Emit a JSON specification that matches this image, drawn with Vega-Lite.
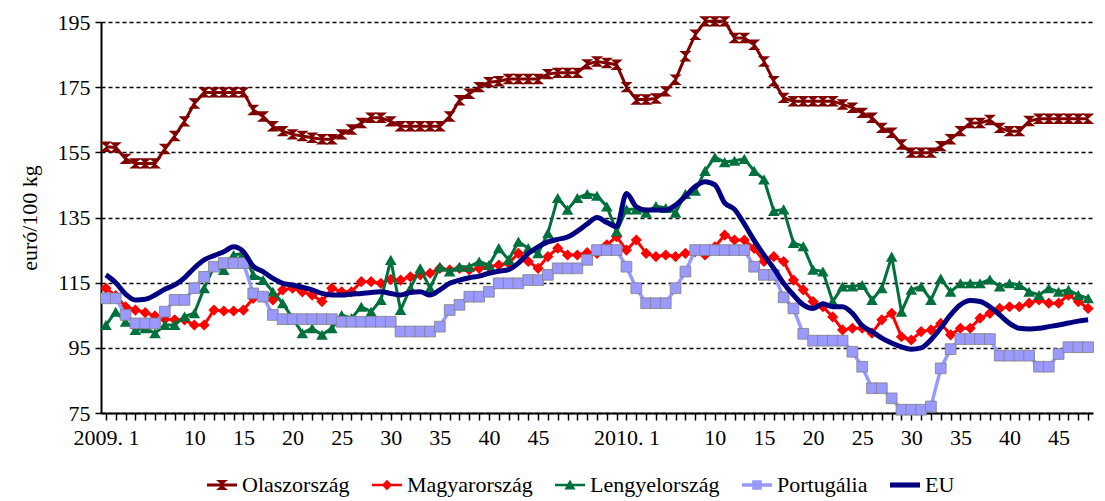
{
  "$schema": "https://vega.github.io/schema/vega-lite/v6.json",
  "width": 992,
  "height": 391,
  "autosize": {"type": "none"},
  "padding": {"left": 101, "top": 22, "right": 12, "bottom": 88},
  "background": "white",
  "config": {
    "view": {"stroke": null},
    "font": "Liberation Serif",
    "legend": {"labelFont": "Liberation Serif", "labelFontSize": 22, "labelColor": "black"}
  },
  "data": {"values": [
    {"i":1,"Olaszország":156.7,"Magyarország":113.3,"Lengyelország":102,"Portugália":110.2,"EU":117.4},
    {"i":2,"Olaszország":156.5,"Magyarország":111,"Lengyelország":106.1,"Portugália":110.2,"EU":115},
    {"i":3,"Olaszország":153,"Magyarország":107.6,"Lengyelország":103,"Portugália":105.1,"EU":111.5},
    {"i":4,"Olaszország":151.6,"Magyarország":106.6,"Lengyelország":100.5,"Portugália":102.5,"EU":109.7},
    {"i":5,"Olaszország":151.6,"Magyarország":105.8,"Lengyelország":101,"Portugália":102.5,"EU":109.9},
    {"i":6,"Olaszország":151.6,"Magyarország":104.8,"Lengyelország":99.5,"Portugália":102.5,"EU":111.2},
    {"i":7,"Olaszország":156,"Magyarország":103.8,"Lengyelország":102,"Portugália":106.1,"EU":113},
    {"i":8,"Olaszország":160,"Magyarország":103.6,"Lengyelország":102,"Portugália":109.7,"EU":114.3},
    {"i":9,"Olaszország":164.5,"Magyarország":103.6,"Lengyelország":104.6,"Portugália":109.7,"EU":116.5},
    {"i":10,"Olaszország":170,"Magyarország":102,"Lengyelország":105.6,"Portugália":113.3,"EU":119.5},
    {"i":11,"Olaszország":173.4,"Magyarország":102,"Lengyelország":113.3,"Portugália":116.8,"EU":122},
    {"i":12,"Olaszország":173.4,"Magyarország":106.6,"Lengyelország":119.9,"Portugália":119.9,"EU":123.3},
    {"i":13,"Olaszország":173.4,"Magyarország":106.3,"Lengyelország":118.9,"Portugália":121,"EU":124.5},
    {"i":14,"Olaszország":173.4,"Magyarország":106.3,"Lengyelország":123.5,"Portugália":121,"EU":126},
    {"i":15,"Olaszország":173.4,"Magyarország":106.6,"Lengyelország":124,"Portugália":121,"EU":124.5},
    {"i":16,"Olaszország":168,"Magyarország":110.2,"Lengyelország":117.4,"Portugália":111.7,"EU":120},
    {"i":17,"Olaszország":166,"Magyarország":110.7,"Lengyelország":115.8,"Portugália":110.7,"EU":118.4},
    {"i":18,"Olaszország":163,"Magyarország":109.7,"Lengyelország":112.2,"Portugália":105.1,"EU":116.3},
    {"i":19,"Olaszország":161.5,"Magyarország":112.8,"Lengyelország":108.7,"Portugália":103.8,"EU":114.8},
    {"i":20,"Olaszország":160.5,"Magyarország":113.3,"Lengyelország":104.1,"Portugália":103.8,"EU":114.3},
    {"i":21,"Olaszország":160,"Magyarország":112.2,"Lengyelország":99.5,"Portugália":103.8,"EU":113.6},
    {"i":22,"Olaszország":159.5,"Magyarország":111.2,"Lengyelország":101,"Portugália":103.8,"EU":112.8},
    {"i":23,"Olaszország":159,"Magyarország":109.2,"Lengyelország":99,"Portugália":103.8,"EU":111.7},
    {"i":24,"Olaszország":159,"Magyarország":113.3,"Lengyelország":101,"Portugália":103.8,"EU":111.2},
    {"i":25,"Olaszország":160.5,"Magyarország":112.2,"Lengyelország":105.1,"Portugália":103,"EU":111.2},
    {"i":26,"Olaszország":162,"Magyarország":112.2,"Lengyelország":104.1,"Portugália":103,"EU":111.5},
    {"i":27,"Olaszország":164,"Magyarország":115.3,"Lengyelország":107.6,"Portugália":103,"EU":111.7},
    {"i":28,"Olaszország":165.6,"Magyarország":115.3,"Lengyelország":106.1,"Portugália":103,"EU":112},
    {"i":29,"Olaszország":165.6,"Magyarország":114.8,"Lengyelország":109.7,"Portugália":103,"EU":112.2},
    {"i":30,"Olaszország":164.5,"Magyarország":116,"Lengyelország":122,"Portugália":103,"EU":111.7},
    {"i":31,"Olaszország":163,"Magyarország":115.8,"Lengyelország":106.6,"Portugália":100,"EU":111.2},
    {"i":32,"Olaszország":163,"Magyarország":116.8,"Lengyelország":113.3,"Portugália":100,"EU":112},
    {"i":33,"Olaszország":163,"Magyarország":117.4,"Lengyelország":119.4,"Portugália":100,"EU":112.2},
    {"i":34,"Olaszország":163,"Magyarország":117.9,"Lengyelország":113.3,"Portugália":100,"EU":111.2},
    {"i":35,"Olaszország":163,"Magyarország":119.4,"Lengyelország":119.9,"Portugália":101.5,"EU":112.8},
    {"i":36,"Olaszország":166,"Magyarország":118.9,"Lengyelország":118.4,"Portugália":106.6,"EU":114.8},
    {"i":37,"Olaszország":171,"Magyarország":119.4,"Lengyelország":119.9,"Portugália":108.2,"EU":115.8},
    {"i":38,"Olaszország":173,"Magyarország":118.9,"Lengyelország":119.9,"Portugália":110.7,"EU":116.5},
    {"i":39,"Olaszország":175,"Magyarország":119.4,"Lengyelország":121.5,"Portugália":110.7,"EU":117},
    {"i":40,"Olaszország":176.5,"Magyarország":119.9,"Lengyelország":120.4,"Portugália":112.2,"EU":117.9},
    {"i":41,"Olaszország":176.8,"Magyarország":120.4,"Lengyelország":125.6,"Portugália":114.8,"EU":118.5},
    {"i":42,"Olaszország":177.5,"Magyarország":121,"Lengyelország":122,"Portugália":114.8,"EU":119},
    {"i":43,"Olaszország":177.5,"Magyarország":124,"Lengyelország":127.6,"Portugália":114.8,"EU":121},
    {"i":44,"Olaszország":177.5,"Magyarország":121.5,"Lengyelország":125.6,"Portugália":115.8,"EU":124},
    {"i":45,"Olaszország":177.5,"Magyarország":119.4,"Lengyelország":124,"Portugália":115.8,"EU":126},
    {"i":46,"Olaszország":179,"Magyarország":123,"Lengyelország":130.2,"Portugália":117.4,"EU":127.5},
    {"i":47,"Olaszország":179.4,"Magyarország":125.6,"Lengyelország":141,"Portugália":119.4,"EU":128.3},
    {"i":48,"Olaszország":179.4,"Magyarország":123.5,"Lengyelország":137.4,"Portugália":119.4,"EU":129},
    {"i":49,"Olaszország":179.4,"Magyarország":123.5,"Lengyelország":141,"Portugália":119.4,"EU":130.8},
    {"i":50,"Olaszország":182,"Magyarország":124.2,"Lengyelország":142.2,"Portugália":122,"EU":133},
    {"i":51,"Olaszország":182.9,"Magyarország":124,"Lengyelország":141.7,"Portugália":125,"EU":135},
    {"i":52,"Olaszország":182.4,"Magyarország":126.6,"Lengyelország":138.4,"Portugália":125,"EU":133.5},
    {"i":53,"Olaszország":181.9,"Magyarország":129.1,"Lengyelország":130.7,"Portugália":125,"EU":132.2},
    {"i":54,"Olaszország":175,"Magyarország":125,"Lengyelország":137.5,"Portugália":119.9,"EU":142.4},
    {"i":55,"Olaszország":171.2,"Magyarország":128.1,"Lengyelország":137.5,"Portugália":113.3,"EU":138.3},
    {"i":56,"Olaszország":171.2,"Magyarország":124,"Lengyelország":136.5,"Portugália":108.7,"EU":137.3},
    {"i":57,"Olaszország":171.5,"Magyarország":123,"Lengyelország":138.5,"Portugália":108.7,"EU":137.3},
    {"i":58,"Olaszország":173.7,"Magyarország":123.5,"Lengyelország":137.9,"Portugália":108.7,"EU":137.3},
    {"i":59,"Olaszország":177.3,"Magyarország":123,"Lengyelország":136.5,"Portugália":113.3,"EU":138.8},
    {"i":60,"Olaszország":184.5,"Magyarország":124,"Lengyelország":142.2,"Portugália":118.4,"EU":141.5},
    {"i":61,"Olaszország":191.1,"Magyarország":124.5,"Lengyelország":143.2,"Portugália":125,"EU":144.5},
    {"i":62,"Olaszország":195.2,"Magyarország":123.5,"Lengyelország":149.3,"Portugália":125,"EU":146},
    {"i":63,"Olaszország":195.2,"Magyarország":126,"Lengyelország":153.5,"Portugália":125,"EU":145},
    {"i":64,"Olaszország":195.2,"Magyarország":129.6,"Lengyelország":152,"Portugália":125,"EU":139.5},
    {"i":65,"Olaszország":190.1,"Magyarország":128.1,"Lengyelország":152.4,"Portugália":125,"EU":137.5},
    {"i":66,"Olaszország":190.1,"Magyarország":128.1,"Lengyelország":153,"Portugália":125,"EU":133},
    {"i":67,"Olaszország":188,"Magyarország":125.5,"Lengyelország":149.3,"Portugália":119.9,"EU":128},
    {"i":68,"Olaszország":182.9,"Magyarország":121.5,"Lengyelország":146.7,"Portugália":117.4,"EU":123.5},
    {"i":69,"Olaszország":176.8,"Magyarország":123,"Lengyelország":137,"Portugália":117.4,"EU":119.4},
    {"i":70,"Olaszország":171.7,"Magyarország":121.5,"Lengyelország":137.5,"Portugália":110.5,"EU":114.8},
    {"i":71,"Olaszország":170.7,"Magyarország":115.8,"Lengyelország":127.2,"Portugália":107.1,"EU":111.2},
    {"i":72,"Olaszország":170.7,"Magyarország":112.8,"Lengyelország":126.2,"Portugália":99.3,"EU":108.2},
    {"i":73,"Olaszország":170.7,"Magyarország":109.2,"Lengyelország":119,"Portugália":97.2,"EU":107.1},
    {"i":74,"Olaszország":170.7,"Magyarország":107.6,"Lengyelország":118.4,"Portugália":97.2,"EU":108.5},
    {"i":75,"Olaszország":170.7,"Magyarország":104.5,"Lengyelország":109.2,"Portugália":97.2,"EU":107.6},
    {"i":76,"Olaszország":169.7,"Magyarország":100.5,"Lengyelország":113.8,"Portugália":97.2,"EU":107.6},
    {"i":77,"Olaszország":168.7,"Magyarország":101,"Lengyelország":113.8,"Portugália":93.8,"EU":105.6},
    {"i":78,"Olaszország":167.1,"Magyarország":101,"Lengyelország":114.3,"Portugália":89.2,"EU":101.8},
    {"i":79,"Olaszország":165.6,"Magyarország":99.5,"Lengyelország":109.7,"Portugália":82.6,"EU":100},
    {"i":80,"Olaszország":162.5,"Magyarország":103.6,"Lengyelország":113.3,"Portugália":82.6,"EU":98},
    {"i":81,"Olaszország":161,"Magyarország":105.6,"Lengyelország":123,"Portugália":79.5,"EU":96.5},
    {"i":82,"Olaszország":157.4,"Magyarország":98.4,"Lengyelország":106.1,"Portugália":76,"EU":95.3},
    {"i":83,"Olaszország":154.9,"Magyarország":97.4,"Lengyelország":112.8,"Portugália":76,"EU":94.6},
    {"i":84,"Olaszország":154.9,"Magyarország":100,"Lengyelország":113.8,"Portugália":76,"EU":95},
    {"i":85,"Olaszország":154.9,"Magyarország":100.5,"Lengyelország":109.7,"Portugália":77,"EU":97.5},
    {"i":86,"Olaszország":156.9,"Magyarország":102.5,"Lengyelország":116.3,"Portugália":88.7,"EU":101.1},
    {"i":87,"Olaszország":159,"Magyarország":99,"Lengyelország":112.2,"Portugália":94.6,"EU":105.1},
    {"i":88,"Olaszország":161.5,"Magyarország":101,"Lengyelország":114.8,"Portugália":97.7,"EU":108.2},
    {"i":89,"Olaszország":164,"Magyarország":101,"Lengyelország":114.8,"Portugália":97.7,"EU":109.5},
    {"i":90,"Olaszország":164,"Magyarország":104.1,"Lengyelország":114.8,"Portugália":97.7,"EU":109.2},
    {"i":91,"Olaszország":164.9,"Magyarország":105.6,"Lengyelország":116,"Portugália":97.7,"EU":107.6},
    {"i":92,"Olaszország":162.5,"Magyarország":107.1,"Lengyelország":113.8,"Portugália":92.6,"EU":105.1},
    {"i":93,"Olaszország":161.5,"Magyarország":107.6,"Lengyelország":114.8,"Portugália":92.6,"EU":102.5},
    {"i":94,"Olaszország":161.5,"Magyarország":107.6,"Lengyelország":114.3,"Portugália":92.6,"EU":101},
    {"i":95,"Olaszország":164.6,"Magyarország":108.7,"Lengyelország":112.2,"Portugália":92.6,"EU":100.8},
    {"i":96,"Olaszország":165.3,"Magyarország":109.7,"Lengyelország":111.2,"Portugália":89.2,"EU":101},
    {"i":97,"Olaszország":165.3,"Magyarország":108.7,"Lengyelország":113.3,"Portugália":89.2,"EU":101.5},
    {"i":98,"Olaszország":165.3,"Magyarország":108.7,"Lengyelország":112.2,"Portugália":93.1,"EU":102},
    {"i":99,"Olaszország":165.3,"Magyarország":111.2,"Lengyelország":112.8,"Portugália":95.2,"EU":102.6},
    {"i":100,"Olaszország":165.3,"Magyarország":109.2,"Lengyelország":111.2,"Portugália":95.2,"EU":103.2},
    {"i":101,"Olaszország":165.3,"Magyarország":107.1,"Lengyelország":110.2,"Portugália":95.2,"EU":103.6}
  ]},
  "transform": [
    {"fold": ["Olaszország", "Magyarország", "Lengyelország", "Portugália", "EU"], "as": ["series", "v"]}
  ],
  "encoding": {
    "x": {
      "field": "i", "type": "quantitative",
      "scale": {"domain": [0.5, 101.5], "nice": false, "zero": false},
      "axis": {
        "title": null,
        "values": [1,2,3,4,5,6,7,8,9,10,11,12,13,14,15,16,17,18,19,20,21,22,23,24,25,26,27,28,29,30,31,32,33,34,35,36,37,38,39,40,41,42,43,44,45,46,47,48,49,50,51,52,53,54,55,56,57,58,59,60,61,62,63,64,65,66,67,68,69,70,71,72,73,74,75,76,77,78,79,80,81,82,83,84,85,86,87,88,89,90,91,92,93,94,95,96,97,98,99,100,101],
        "labelExpr": "datum.value == 1 ? '2009. 1' : datum.value == 54 ? '2010. 1' : (datum.value <= 53 ? ((datum.value % 5 == 0 && datum.value >= 10 && datum.value <= 45) ? '' + datum.value : '') : (((datum.value - 53) % 5 == 0 && datum.value - 53 >= 10) ? '' + (datum.value - 53) : ''))",
        "labelOverlap": false,
        "labelFlush": false,
        "labelFont": "Liberation Serif",
        "labelFontSize": 22,
        "labelColor": "black",
        "labelPadding": 7,
        "tickColor": "black",
        "tickSize": 7,
        "tickWidth": 1.5,
        "domainColor": "black",
        "domainWidth": 2,
        "grid": false
      }
    },
    "y": {
      "field": "v", "type": "quantitative",
      "scale": {"domain": [75, 195], "nice": false, "zero": false},
      "axis": {
        "title": "euró/100 kg",
        "titleFont": "Liberation Serif",
        "titleFontSize": 22,
        "titleFontWeight": "normal",
        "titleColor": "black",
        "titlePadding": 16,
        "values": [75, 95, 115, 135, 155, 175, 195],
        "labelFont": "Liberation Serif",
        "labelFontSize": 22,
        "labelColor": "black",
        "labelPadding": 5,
        "tickColor": "black",
        "tickSize": 6,
        "tickWidth": 1.5,
        "domainColor": "black",
        "domainWidth": 2,
        "grid": true,
        "gridColor": "black",
        "gridDash": [4, 3],
        "gridWidth": 1.6
      }
    }
  },
  "layer": [
    {"transform": [{"filter": "datum.series == 'Olaszország'"}],
     "mark": {"type": "line", "color": "#800000", "strokeWidth": 3}},
    {"transform": [{"filter": "datum.series == 'Olaszország'"}],
     "mark": {"type": "point", "shape": "M-1,-0.85L1,-0.85L0,0Z M-1,0.85L0,0L1,0.85Z", "filled": true, "color": "#800000", "size": 150, "opacity": 1}},
    {"transform": [{"filter": "datum.series == 'Magyarország'"}],
     "mark": {"type": "line", "color": "#FF0000", "strokeWidth": 3}},
    {"transform": [{"filter": "datum.series == 'Magyarország'"}],
     "mark": {"type": "point", "shape": "diamond", "filled": true, "color": "#FF0000", "size": 125, "opacity": 1}},
    {"transform": [{"filter": "datum.series == 'Lengyelország'"}],
     "mark": {"type": "line", "color": "#00703C", "strokeWidth": 3}},
    {"transform": [{"filter": "datum.series == 'Lengyelország'"}],
     "mark": {"type": "point", "shape": "triangle-up", "filled": true, "color": "#00703C", "size": 135, "opacity": 1}},
    {"transform": [{"filter": "datum.series == 'Portugália'"}],
     "mark": {"type": "line", "color": "#9999FF", "strokeWidth": 3.5}},
    {"transform": [{"filter": "datum.series == 'Portugália'"}],
     "mark": {"type": "point", "shape": "square", "filled": true, "fill": "#9999FF", "stroke": "#808080", "strokeWidth": 0.8, "size": 115, "opacity": 1}},
    {"transform": [{"filter": "datum.series == 'EU'"}],
     "mark": {"type": "line", "color": "#000080", "strokeWidth": 5, "interpolate": "monotone"}},
    {"transform": [{"filter": "datum.i < 0"}],
     "mark": {"type": "point", "filled": true, "opacity": 1},
     "encoding": {
       "color": {
         "field": "series", "type": "nominal",
         "scale": {"domain": ["Olaszország", "Magyarország", "Lengyelország", "Portugália", "EU"],
                   "range": ["#800000", "#FF0000", "#00703C", "#9999FF", "#000080"]},
         "legend": {
           "title": null,
           "orient": "none",
           "legendX": 106,
           "legendY": 448,
           "direction": "horizontal",
           "columns": 5,
           "symbolSize": 900,
           "symbolStrokeWidth": 0,
           "symbolOpacity": 1,
           "labelFont": "Liberation Serif",
           "labelFontSize": 22,
           "labelColor": "black",
           "labelOffset": 5,
           "columnPadding": 22,
           "labelLimit": 300
         }
       },
       "shape": {
         "field": "series", "type": "nominal",
         "scale": {"domain": ["Olaszország", "Magyarország", "Lengyelország", "Portugália", "EU"],
                   "range": [
                     "M-1,-0.1L1,-0.1L1,0.1L-1,0.1Z M-0.4,-0.34L0.4,-0.34L0,0Z M-0.4,0.34L0,0L0.4,0.34Z",
                     "M-1,-0.09L1,-0.09L1,0.09L-1,0.09Z M0,-0.35L0.35,0L0,0.35L-0.35,0Z",
                     "M-1,-0.09L1,-0.09L1,0.09L-1,0.09Z M0,-0.37L0.37,0.3L-0.37,0.3Z",
                     "M-1,-0.11L1,-0.11L1,0.11L-1,0.11Z M-0.32,-0.32L0.32,-0.32L0.32,0.32L-0.32,0.32Z",
                     "M-1,-0.17L1,-0.17L1,0.17L-1,0.17Z"
                   ]},
         "legend": {
           "title": null,
           "orient": "none",
           "legendX": 106,
           "legendY": 448,
           "direction": "horizontal",
           "columns": 5,
           "symbolSize": 900,
           "symbolStrokeWidth": 0,
           "symbolOpacity": 1,
           "labelFont": "Liberation Serif",
           "labelFontSize": 22,
           "labelColor": "black",
           "labelOffset": 5,
           "columnPadding": 22,
           "labelLimit": 300
         }
       }
     }}
  ]
}
